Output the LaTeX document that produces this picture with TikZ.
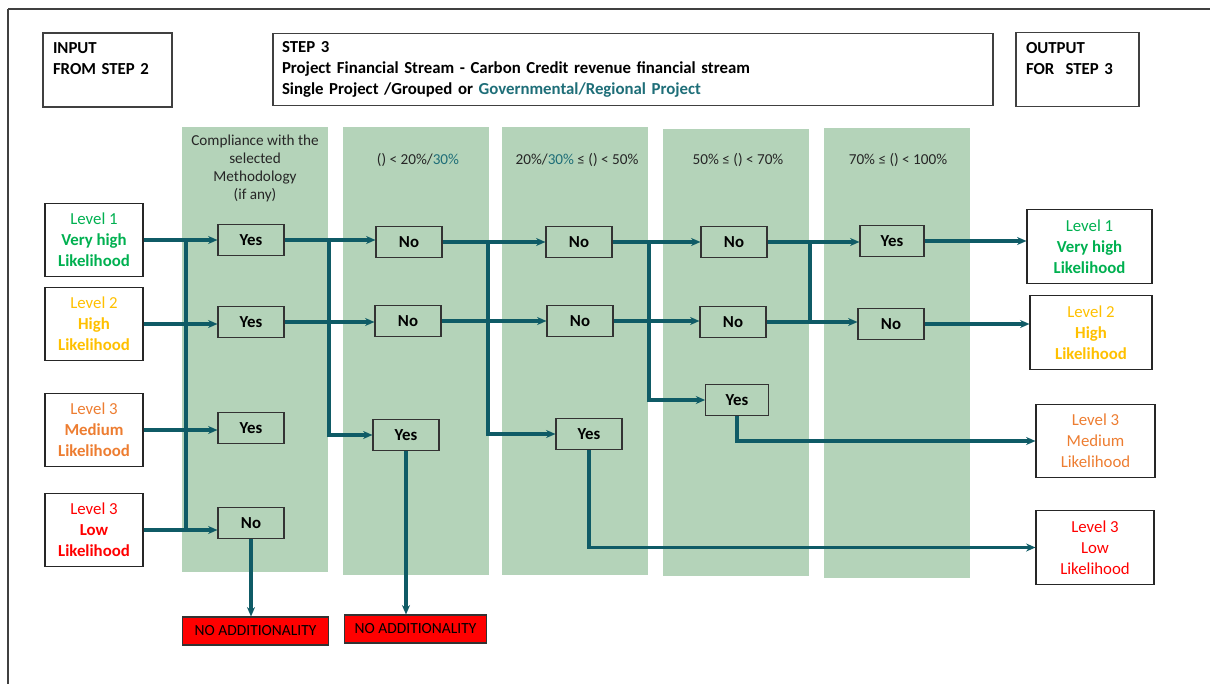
\documentclass[tikz,border=0pt]{standalone}
\usepackage{fontspec}
\setmainfont{Carlito}
\usetikzlibrary{arrows.meta}
\definecolor{colgreen}{HTML}{B4D3B9}
\definecolor{flowteal}{HTML}{0F5B66}
\definecolor{hdteal}{HTML}{1E6E78}
\definecolor{lvgreen}{HTML}{00B050}
\definecolor{lvyellow}{HTML}{FFC000}
\definecolor{lvorange}{HTML}{ED7D31}
\definecolor{lvred}{HTML}{FF0000}
\definecolor{framegray}{HTML}{404040}
\tikzset{
  headbox/.style={draw=black!75, line width=0.8pt, align=left, inner xsep=7.5pt, font=\bfseries\fontsize{12.6}{16}\selectfont},
  lvbox/.style={draw=black!85, line width=0.8pt, align=center, minimum width=73.5pt, minimum height=54.75pt, inner sep=1pt, font=\fontsize{12.6}{15.6}\selectfont},
  outbox/.style={lvbox, minimum height=55pt},
  ansbox/.style={draw=black!80, fill=colgreen, line width=0.8pt, minimum width=49.5pt, minimum height=23.25pt, inner sep=1pt, font=\bfseries\fontsize{12.6}{14}\selectfont},
  noadd/.style={draw=black!80, fill=red, line width=0.8pt, minimum width=110pt, minimum height=21pt, inner sep=1pt, font=\fontsize{11.6}{13}\selectfont},
  colhead/.style={align=center, text=black!85, font=\fontsize{11.4}{13.5}\selectfont},
  flow/.style={draw=flowteal, line width=2.4pt},
}
\begin{document}
\begin{tikzpicture}[x=0.75pt, y=-0.75pt, >={Stealth[length=7pt,width=6pt]}]
  \useasboundingbox (0,0) rectangle (1210,684);
  \draw[framegray, line width=2.2pt] (8,9)--(1210,9);
  \draw[framegray, line width=1.4pt] (8,9)--(8,684);
  % columns
  \fill[colgreen] (182,127) rectangle (328,572);
  \fill[colgreen] (343,127) rectangle (489,575);
  \fill[colgreen] (502,127) rectangle (648,575);
  \fill[colgreen] (663,129) rectangle (809,576);
  \fill[colgreen] (824,128) rectangle (970,578);
  \node[colhead] (hd1) at (255,168) {Compliance with the\\selected\\Methodology\\(if any)};
  \node[colhead] (hd2) at (418,160) {() < 20\%/{\color{hdteal}30\%}};
  \node[colhead] (hd3) at (577,160) {20\%/{\color{hdteal}30\%} ≤ () < 50\%};
  \node[colhead] (hd4) at (738,160) {50\% ≤ () < 70\%};
  \node[colhead] (hd5) at (898,160) {70\% ≤ () < 100\%};
  % top boxes
  \node[headbox, text width=81.75pt, minimum height=55.5pt] (inp) at (107.5,70) {INPUT\\FROM STEP 2\\[-4pt]\strut};
  \node[headbox, inner xsep=6.75pt, text width=526.5pt, minimum height=54pt] (step) at (633,69.5)
    {STEP 3\\Project Financial Stream - Carbon Credit revenue financial stream\\Single Project /Grouped or {\color{hdteal}Governmental/Regional Project}};
  \node[headbox, text width=77.25pt, minimum height=55pt] (outp) at (1077.5,69.5) {OUTPUT\\FOR\ \ STEP 3\\[-4pt]\strut};
  % levels in
  \node[lvbox, text=lvgreen] (lv1) at (94,240) {Level 1\\\textbf{Very high}\\\textbf{Likelihood}};
  \node[lvbox, text=lvyellow] (lv2) at (94,324) {Level 2\\\textbf{High}\\\textbf{Likelihood}};
  \node[lvbox, text=lvorange] (lv3) at (94,430) {Level 3\\\textbf{Medium}\\\textbf{Likelihood}};
  \node[lvbox, text=lvred] (lv4) at (94,530) {Level 3\\\textbf{Low}\\\textbf{Likelihood}};
  % answers
  \node[ansbox] (c1a) at (251,240) {Yes};
  \node[ansbox] (c1b) at (251,322) {Yes};
  \node[ansbox] (c1c) at (251,428) {Yes};
  \node[ansbox] (c1d) at (251,523) {No};
  \node[ansbox] (c2a) at (409,242) {No};
  \node[ansbox] (c2b) at (408,321) {No};
  \node[ansbox] (c2c) at (406,435) {Yes};
  \node[ansbox] (c3a) at (579,242) {No};
  \node[ansbox] (c3b) at (580,321) {No};
  \node[ansbox] (c3c) at (589,434) {Yes};
  \node[ansbox] (c4a) at (734,242) {No};
  \node[ansbox] (c4b) at (733,322) {No};
  \node[ansbox, minimum width=47pt] (c4c) at (737,400) {Yes};
  \node[ansbox, minimum width=48pt] (c5a) at (892,241) {Yes};
  \node[ansbox] (c5b) at (891,324) {No};
  % levels out
  \node[outbox, text=lvgreen, minimum width=93.75pt] (out1) at (1089.5,246.5) {Level 1\\\textbf{Very high}\\\textbf{Likelihood}};
  \node[outbox, text=lvyellow, minimum width=91.5pt] (out2) at (1091,332.5) {Level 2\\\textbf{High}\\\textbf{Likelihood}};
  \node[outbox, text=lvorange, minimum width=89.25pt] (out3) at (1095.5,441) {Level 3\\Medium\\Likelihood};
  \node[outbox, text=lvred, minimum width=88.5pt] (out4) at (1095,547.5) {Level 3\\Low\\Likelihood};
  \node[noadd] (na1) at (255.5,631) {NO ADDITIONALITY};
  \node[noadd, minimum width=107pt] (na2) at (415.5,629) {NO ADDITIONALITY};
  % junctions
  \coordinate (j0) at (186,0);
  \coordinate (j1) at (329,0);
  \coordinate (j2) at (488,0);
  \coordinate (j3) at (649,0);
  \coordinate (j4) at (810,0);
  % connectors
  \draw[flow,->] (lv1.east) -- (lv1.east -| c1a.west);
  \draw[flow,->] (lv2.east) -- (lv2.east -| c1b.west);
  \draw[flow,->] (lv3.east) -- (lv3.east -| c1c.west);
  \draw[flow,->] (lv4.east) -- (lv4.east -| c1d.west);
  \draw[flow] (lv1.east -| j0) -- (lv4.east -| j0);
  \draw[flow,->] (c1a.east) -- (c1a.east -| c2a.west);
  \draw[flow,->] (c1a.east -| j1) |- (c2c.west);
  \draw[flow,->] (c1b.east) -- (c1b.east -| c2b.west);
  \draw[flow,->] (c1d.south) -- (c1d.south |- na1.north);
  \draw[flow,->] (c2a.east) -- (c2a.east -| c3a.west);
  \draw[flow,->] (c2a.east -| j2) |- (c3c.west);
  \draw[flow,->] (c2b.east) -- (c2b.east -| c3b.west);
  \draw[flow,->] (c2c.south) -- (c2c.south |- na2.north);
  \draw[flow,->] (c3a.east) -- (c3a.east -| c4a.west);
  \draw[flow,->] (c3a.east -| j3) |- (c4c.west);
  \draw[flow,->] (c3b.east) -- (c3b.east -| c4b.west);
  \draw[flow,->] (c3c.south) |- (out4.west);
  \draw[flow,->] (c4a.east) -- (c4a.east -| c5a.west);
  \draw[flow] (c4a.east -| j4) -- (c4b.east -| j4);
  \draw[flow,->] (c4b.east) -- (c4b.east -| c5b.west);
  \draw[flow,->] (c4c.south) |- (out3.west);
  \draw[flow,->] (c5a.east) -- (c5a.east -| out1.west);
  \draw[flow,->] (c5b.east) -- (c5b.east -| out2.west);
\end{tikzpicture}
\end{document}
